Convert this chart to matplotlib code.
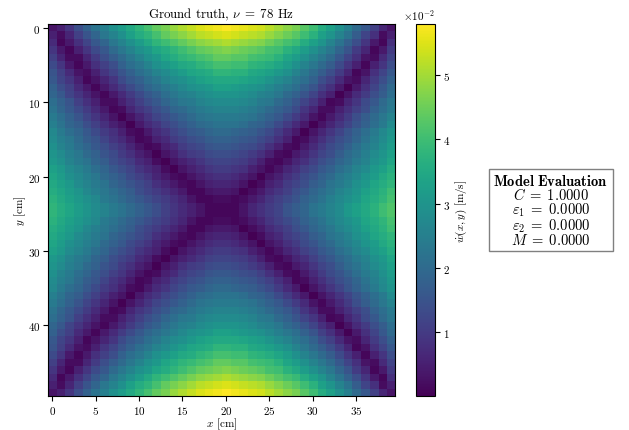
"""Ground-truth velocity field heatmap with a model-evaluation box."""

import matplotlib

matplotlib.use("Agg")
import matplotlib.pyplot as plt  # noqa: E402
import numpy as np  # noqa: E402

plt.rcParams.update({
    "font.family": "serif",
    "font.serif": ["cmr10"],
    "mathtext.fontset": "cm",
    "axes.formatter.use_mathtext": True,
    "font.size": 8,
})

FREQ_HZ = 78

# metric name (mathtext) -> value
METRIC_NAMES = ["C", r"\varepsilon_1", r"\varepsilon_2", "M"]
METRIC_VALUES = [1.0, 0.0, 0.0, 0.0]

# |w_dot(x, y)| in 1e-3 m/s, rows = y (0..49), cols = x (0..39)
W_DOT_MM_S = [
    [3, 5, 9, 14, 18, 22, 25, 29, 32, 35, 38, 41, 44, 46, 49, 51, 53, 55, 56, 57, 58, 57, 56, 55, 54, 52, 50, 48, 46, 43, 40, 36, 33, 29, 25, 20, 16, 11, 6, 3],
    [5, 2, 6, 11, 15, 19, 23, 26, 29, 33, 36, 38, 41, 44, 46, 48, 50, 52, 53, 54, 55, 54, 53, 52, 51, 49, 47, 45, 43, 40, 37, 33, 30, 26, 22, 17, 12, 8, 2, 5],
    [7, 1, 4, 8, 12, 16, 19, 23, 26, 29, 32, 35, 38, 40, 42, 44, 46, 48, 49, 50, 51, 50, 49, 48, 47, 45, 43, 41, 39, 36, 33, 30, 26, 22, 18, 14, 9, 4, 1, 8],
    [9, 4, 1, 5, 9, 13, 16, 20, 23, 26, 29, 31, 34, 36, 38, 40, 42, 44, 45, 46, 47, 46, 45, 44, 43, 41, 40, 37, 35, 32, 29, 26, 23, 19, 15, 10, 6, 1, 4, 10],
    [11, 6, 2, 2, 6, 10, 14, 17, 20, 23, 26, 29, 31, 34, 36, 38, 39, 41, 42, 44, 44, 43, 43, 41, 40, 39, 37, 34, 32, 29, 26, 23, 20, 16, 12, 8, 3, 2, 7, 12],
    [13, 9, 4, 1, 4, 8, 11, 14, 18, 21, 23, 26, 29, 31, 33, 35, 36, 38, 39, 41, 41, 40, 40, 38, 37, 36, 34, 32, 29, 26, 23, 20, 17, 13, 9, 5, 1, 5, 9, 14],
    [15, 11, 7, 3, 2, 5, 9, 12, 15, 18, 21, 23, 26, 28, 30, 32, 34, 35, 36, 38, 38, 37, 37, 35, 34, 33, 31, 29, 26, 23, 20, 17, 14, 10, 6, 1, 3, 8, 12, 16],
    [16, 12, 9, 5, 1, 3, 6, 9, 13, 16, 18, 21, 23, 26, 28, 29, 31, 33, 34, 35, 35, 35, 34, 33, 32, 30, 28, 26, 23, 21, 18, 14, 11, 7, 3, 2, 6, 10, 14, 18],
    [18, 14, 11, 7, 4, 1, 4, 7, 10, 13, 16, 19, 21, 23, 25, 27, 29, 30, 31, 33, 33, 32, 31, 30, 29, 27, 25, 23, 21, 18, 15, 11, 8, 4, 0, 4, 8, 12, 16, 20],
    [19, 16, 12, 9, 6, 3, 1, 4, 7, 10, 13, 16, 18, 21, 23, 25, 26, 28, 29, 30, 30, 30, 29, 28, 26, 25, 23, 20, 18, 15, 12, 8, 5, 0, 3, 7, 10, 14, 17, 21],
    [21, 18, 15, 11, 8, 5, 2, 2, 5, 8, 11, 14, 16, 19, 21, 23, 24, 26, 27, 28, 28, 28, 27, 26, 24, 23, 20, 18, 15, 12, 9, 5, 1, 2, 6, 9, 13, 16, 20, 23],
    [22, 19, 16, 13, 10, 7, 4, 1, 2, 6, 9, 11, 14, 16, 19, 20, 22, 24, 25, 26, 26, 26, 25, 24, 22, 20, 18, 16, 13, 9, 6, 2, 2, 5, 8, 11, 14, 18, 21, 24],
    [24, 21, 18, 15, 12, 9, 6, 3, 0, 3, 6, 9, 12, 14, 16, 18, 20, 22, 23, 24, 24, 24, 23, 22, 20, 18, 16, 13, 10, 7, 3, 1, 4, 7, 10, 14, 17, 20, 23, 26],
    [25, 22, 19, 17, 14, 11, 8, 5, 3, 0, 4, 7, 9, 12, 14, 16, 18, 20, 21, 22, 22, 22, 21, 19, 18, 16, 13, 10, 7, 4, 0, 3, 6, 9, 12, 15, 18, 21, 24, 28],
    [27, 24, 21, 19, 16, 13, 10, 8, 5, 2, 1, 4, 7, 9, 12, 14, 16, 17, 19, 20, 20, 19, 18, 17, 15, 13, 10, 7, 4, 0, 3, 6, 9, 12, 15, 18, 21, 24, 27, 30],
    [28, 25, 23, 20, 17, 15, 12, 9, 7, 4, 1, 2, 5, 7, 10, 12, 14, 15, 17, 18, 18, 17, 16, 15, 13, 11, 8, 5, 1, 2, 5, 8, 11, 14, 16, 19, 22, 25, 28, 31],
    [29, 26, 24, 21, 19, 16, 14, 11, 9, 6, 3, 1, 2, 5, 7, 10, 12, 13, 15, 16, 16, 15, 14, 13, 11, 8, 5, 2, 1, 4, 7, 10, 13, 15, 18, 21, 24, 26, 29, 32],
    [30, 28, 25, 23, 20, 18, 15, 13, 10, 8, 5, 3, 0, 3, 5, 8, 10, 11, 13, 14, 14, 13, 12, 10, 8, 5, 2, 1, 4, 6, 9, 12, 14, 17, 20, 22, 25, 28, 30, 33],
    [31, 29, 26, 24, 22, 19, 17, 14, 12, 10, 7, 5, 2, 0, 3, 5, 7, 9, 11, 12, 12, 11, 10, 8, 5, 2, 1, 3, 6, 8, 11, 14, 16, 19, 21, 24, 26, 29, 31, 34],
    [33, 31, 28, 26, 24, 21, 19, 16, 14, 12, 9, 7, 5, 2, 0, 3, 5, 7, 9, 10, 10, 9, 8, 5, 3, 1, 3, 6, 8, 11, 13, 16, 18, 21, 23, 26, 28, 31, 33, 36],
    [34, 32, 29, 27, 25, 23, 20, 18, 16, 13, 11, 9, 6, 4, 2, 1, 3, 5, 7, 8, 8, 7, 5, 3, 0, 3, 5, 8, 10, 13, 15, 18, 20, 23, 25, 27, 30, 32, 35, 37],
    [35, 33, 31, 28, 26, 24, 22, 19, 17, 15, 13, 11, 8, 6, 4, 2, 1, 3, 5, 6, 6, 5, 3, 0, 2, 5, 7, 10, 12, 14, 17, 19, 22, 24, 26, 29, 31, 34, 36, 38],
    [36, 34, 32, 30, 27, 25, 23, 21, 19, 17, 14, 12, 10, 8, 6, 4, 1, 1, 3, 4, 4, 3, 0, 2, 4, 7, 9, 11, 14, 16, 19, 21, 23, 26, 28, 30, 33, 35, 37, 40],
    [37, 35, 33, 31, 29, 27, 24, 22, 20, 18, 16, 14, 12, 10, 8, 6, 3, 1, 1, 2, 2, 1, 2, 4, 6, 9, 11, 13, 15, 18, 20, 22, 25, 27, 29, 31, 34, 36, 38, 41],
    [38, 36, 34, 32, 30, 28, 26, 24, 22, 20, 18, 16, 14, 11, 9, 7, 5, 3, 1, 1, 1, 1, 3, 6, 8, 10, 12, 15, 17, 19, 22, 24, 26, 28, 31, 33, 35, 37, 40, 42],
    [38, 36, 34, 32, 30, 28, 26, 24, 22, 20, 18, 16, 14, 11, 9, 7, 5, 3, 1, 1, 1, 1, 3, 6, 8, 10, 12, 15, 17, 19, 22, 24, 26, 28, 31, 33, 35, 37, 40, 42],
    [37, 35, 33, 31, 29, 27, 24, 22, 20, 18, 16, 14, 12, 10, 8, 6, 3, 1, 1, 2, 2, 1, 2, 4, 6, 9, 11, 13, 15, 18, 20, 22, 25, 27, 29, 31, 34, 36, 38, 41],
    [36, 34, 32, 30, 27, 25, 23, 21, 19, 17, 14, 12, 10, 8, 6, 4, 1, 1, 3, 4, 4, 3, 0, 2, 4, 7, 9, 11, 14, 16, 19, 21, 23, 26, 28, 30, 33, 35, 37, 40],
    [35, 33, 31, 28, 26, 24, 22, 19, 17, 15, 13, 11, 8, 6, 4, 2, 1, 3, 5, 6, 6, 5, 3, 0, 2, 5, 7, 10, 12, 14, 17, 19, 22, 24, 26, 29, 31, 34, 36, 38],
    [34, 32, 29, 27, 25, 23, 20, 18, 16, 13, 11, 9, 6, 4, 2, 1, 3, 5, 7, 8, 8, 7, 5, 3, 0, 3, 5, 8, 10, 13, 15, 18, 20, 23, 25, 27, 30, 32, 35, 37],
    [33, 31, 28, 26, 24, 21, 19, 16, 14, 12, 9, 7, 5, 2, 0, 3, 5, 7, 9, 10, 10, 9, 8, 5, 3, 1, 3, 6, 8, 11, 13, 16, 18, 21, 23, 26, 28, 31, 33, 36],
    [31, 29, 26, 24, 22, 19, 17, 14, 12, 10, 7, 5, 2, 0, 3, 5, 7, 9, 11, 12, 12, 11, 10, 8, 5, 2, 1, 3, 6, 8, 11, 14, 16, 19, 21, 24, 26, 29, 31, 34],
    [30, 28, 25, 23, 20, 18, 15, 13, 10, 8, 5, 3, 0, 3, 5, 8, 10, 11, 13, 14, 14, 13, 12, 10, 8, 5, 2, 1, 4, 6, 9, 12, 14, 17, 20, 22, 25, 28, 30, 33],
    [29, 26, 24, 21, 19, 16, 14, 11, 9, 6, 3, 1, 2, 5, 7, 10, 12, 13, 15, 16, 16, 15, 14, 13, 11, 8, 5, 2, 1, 4, 7, 10, 13, 15, 18, 21, 24, 26, 29, 32],
    [28, 25, 23, 20, 17, 15, 12, 9, 7, 4, 1, 2, 5, 7, 10, 12, 14, 15, 17, 18, 18, 17, 16, 15, 13, 11, 8, 5, 1, 2, 5, 8, 11, 14, 16, 19, 22, 25, 28, 31],
    [27, 24, 21, 19, 16, 13, 10, 8, 5, 2, 1, 4, 7, 9, 12, 14, 16, 17, 19, 20, 20, 19, 18, 17, 15, 13, 10, 7, 4, 0, 3, 6, 9, 12, 15, 18, 21, 24, 27, 30],
    [25, 22, 19, 17, 14, 11, 8, 5, 3, 0, 4, 7, 9, 12, 14, 16, 18, 20, 21, 22, 22, 22, 21, 19, 18, 16, 13, 10, 7, 4, 0, 3, 6, 9, 12, 15, 18, 21, 24, 28],
    [24, 21, 18, 15, 12, 9, 6, 3, 0, 3, 6, 9, 12, 14, 16, 18, 20, 22, 23, 24, 24, 24, 23, 22, 20, 18, 16, 13, 10, 7, 3, 1, 4, 7, 10, 14, 17, 20, 23, 26],
    [22, 19, 16, 13, 10, 7, 4, 1, 2, 6, 9, 11, 14, 16, 19, 20, 22, 24, 25, 26, 26, 26, 25, 24, 22, 20, 18, 16, 13, 9, 6, 2, 2, 5, 8, 11, 14, 18, 21, 24],
    [21, 18, 15, 11, 8, 5, 2, 2, 5, 8, 11, 14, 16, 19, 21, 23, 24, 26, 27, 28, 28, 28, 27, 26, 24, 23, 20, 18, 15, 12, 9, 5, 1, 2, 6, 9, 13, 16, 20, 23],
    [19, 16, 12, 9, 6, 3, 1, 4, 7, 10, 13, 16, 18, 21, 23, 25, 26, 28, 29, 30, 30, 30, 29, 28, 26, 25, 23, 20, 18, 15, 12, 8, 5, 0, 3, 7, 10, 14, 17, 21],
    [18, 14, 11, 7, 4, 1, 4, 7, 10, 13, 16, 19, 21, 23, 25, 27, 29, 30, 31, 33, 33, 32, 31, 30, 29, 27, 25, 23, 21, 18, 15, 11, 8, 4, 0, 4, 8, 12, 16, 20],
    [16, 12, 9, 5, 1, 3, 6, 9, 13, 16, 18, 21, 23, 26, 28, 29, 31, 33, 34, 35, 35, 35, 34, 33, 32, 30, 28, 26, 23, 21, 18, 14, 11, 7, 3, 2, 6, 10, 14, 18],
    [15, 11, 7, 3, 2, 5, 9, 12, 15, 18, 21, 23, 26, 28, 30, 32, 34, 35, 36, 38, 38, 37, 37, 35, 34, 33, 31, 29, 26, 23, 20, 17, 14, 10, 6, 1, 3, 8, 12, 16],
    [13, 9, 4, 1, 4, 8, 11, 14, 18, 21, 23, 26, 29, 31, 33, 35, 36, 38, 39, 41, 41, 40, 40, 38, 37, 36, 34, 32, 29, 26, 23, 20, 17, 13, 9, 5, 1, 5, 9, 14],
    [11, 6, 2, 2, 6, 10, 14, 17, 20, 23, 26, 29, 31, 34, 36, 38, 39, 41, 42, 44, 44, 43, 43, 41, 40, 39, 37, 34, 32, 29, 26, 23, 20, 16, 12, 8, 3, 2, 7, 12],
    [9, 4, 1, 5, 9, 13, 16, 20, 23, 26, 29, 31, 34, 36, 38, 40, 42, 44, 45, 46, 47, 46, 45, 44, 43, 41, 40, 37, 35, 32, 29, 26, 23, 19, 15, 10, 6, 1, 4, 10],
    [7, 1, 4, 8, 12, 16, 19, 23, 26, 29, 32, 35, 38, 40, 42, 44, 46, 48, 49, 50, 51, 50, 49, 48, 47, 45, 43, 41, 39, 36, 33, 30, 26, 22, 18, 14, 9, 4, 1, 8],
    [5, 2, 6, 11, 15, 19, 23, 26, 29, 33, 36, 38, 41, 44, 46, 48, 50, 52, 53, 54, 55, 54, 53, 52, 51, 49, 47, 45, 43, 40, 37, 33, 30, 26, 22, 17, 12, 8, 2, 5],
    [3, 5, 9, 14, 18, 22, 25, 29, 32, 35, 38, 41, 44, 46, 49, 51, 53, 55, 56, 57, 58, 57, 56, 55, 54, 52, 50, 48, 46, 43, 40, 36, 33, 29, 25, 20, 16, 11, 6, 3],
]

CBAR_TICKS = [0.01, 0.02, 0.03, 0.04, 0.05]


def main():
    w = np.array(W_DOT_MM_S, dtype=float) * 1e-3

    fig = plt.figure(figsize=(6.29, 4.31), dpi=100)
    ax = fig.add_axes([0.0763, 0.0789, 0.5517, 0.8631])
    cax = fig.add_axes([0.6614, 0.0789, 0.0302, 0.8631])

    im = ax.imshow(w, cmap="viridis", aspect="auto", interpolation="nearest")
    ax.set_title(rf"Ground truth, $\nu \;=\; {FREQ_HZ}$ Hz", fontsize=9.3, pad=5)
    ax.tick_params(pad=2)
    ax.set_xlabel(r"$x$ [cm]", labelpad=0)
    ax.set_ylabel(r"$y$ [cm]", labelpad=0)

    cb = fig.colorbar(im, cax=cax)
    cb.set_ticks(CBAR_TICKS)
    cb.formatter.set_powerlimits((0, 0))
    cb.update_ticks()
    cax.tick_params(pad=2)
    cb.set_label(r"$\dot{w}(x,y)$ [m/s]", labelpad=3)

    lines = [r"$\mathbf{Model\ Evaluation}$"]
    lines += [rf"${n} \;=\; {v:.4f}$" for n, v in zip(METRIC_NAMES, METRIC_VALUES)]
    fig.text(0.876, 0.51, "\n".join(lines), ha="center", va="center",
             multialignment="center", fontsize=10.5, linespacing=0.86,
             bbox=dict(boxstyle="square,pad=0.3", facecolor="white",
                       edgecolor="gray"))

    fig.savefig("out.png", dpi=100)
    plt.close(fig)


if __name__ == "__main__":
    main()
